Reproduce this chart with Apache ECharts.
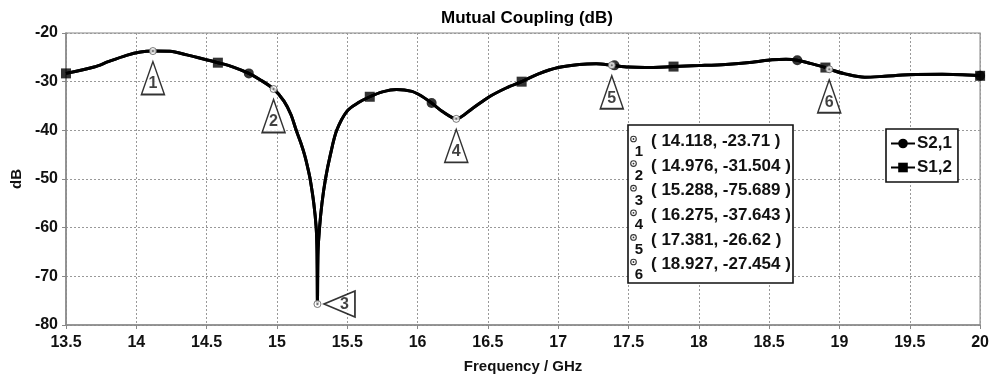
<!DOCTYPE html>
<html><head><meta charset="utf-8">
<script src="https://cdn.jsdelivr.net/npm/echarts@6/dist/echarts.min.js"></script>
<style>html,body{margin:0;padding:0;background:#fff}#c{width:992px;height:379px}</style>
</head><body><div id="c"></div>
<script>
// ---- data ----
const curveFreq = [13.5, 13.7, 13.8, 13.93, 14.03, 14.118, 14.24, 14.36, 14.47, 14.58, 14.69, 14.8, 14.88, 14.976,
  15.05, 15.1, 15.137, 15.17, 15.196, 15.22, 15.236, 15.262, 15.279, 15.285, 15.288, 15.292, 15.303, 15.32, 15.345,
  15.38, 15.425, 15.5, 15.58, 15.66, 15.75, 15.85, 15.96, 16.03, 16.1, 16.18, 16.275, 16.39, 16.51, 16.63, 16.74,
  16.86, 17.0, 17.15, 17.27, 17.381, 17.5, 17.62, 17.82, 18.0, 18.19, 18.38, 18.52, 18.62, 18.7, 18.8, 18.9, 18.927,
  19.04, 19.18, 19.32, 19.49, 19.73, 20];
const curveDb = [-28.3, -27.0, -25.9, -24.6, -23.9, -23.71, -23.75, -24.5, -25.3, -26.1, -27.0, -28.3, -29.6, -31.504,
  -34.0, -36.8, -40, -42.6, -45, -47.8, -50, -55, -60, -65, -75.689, -65, -60, -55, -50,
  -45, -40, -36.0, -34.3, -33.1, -32.1, -31.6, -32.0, -33.0, -34.4, -36.2, -37.643, -35.5, -33.1, -31.3, -30.0,
  -28.4, -27.1, -26.45, -26.3, -26.62, -27.0, -27.1, -26.9, -26.7, -26.45, -26.0, -25.5, -25.4, -25.6, -26.3, -27.1, -27.454,
  -28.4, -29.1, -28.9, -28.6, -28.5, -28.8];
const s21MarkFreq = [14.8, 16.1, 17.4, 18.7, 20];
const s21MarkDb = [-28.3, -34.4, -26.65, -25.6, -28.8];
const s12MarkFreq = [13.5, 14.58, 15.66, 16.74, 17.82, 18.9, 20];
const s12MarkDb = [-28.3, -26.1, -33.1, -30.0, -26.9, -27.1, -28.8];
const markerFreq = [14.118, 14.976, 15.288, 16.275, 17.381, 18.927];
const markerDb = [-23.71, -31.504, -75.689, -37.643, -26.62, -27.454];
const markerIds = ['1', '2', '3', '4', '5', '6'];
const seriesNames = ['S2,1', 'S1,2'];
const titleText = 'Mutual Coupling (dB)';
const xName = 'Frequency / GHz';
const yName = 'dB';
const xMin = 13.5, xMax = 20, xStep = 0.5;
const yMin = -80, yMax = -20, yStep = 10;

// ---- styles ----
const calloutDir = ['down', 'down', 'right', 'down', 'down', 'down'];
const FONT = 'Liberation Sans, Arial, sans-serif';

const zip = (a, b) => a.map((v, i) => [v, b[i]]);
const curve = zip(curveFreq, curveDb);

const calloutData = markerFreq.map((f, i) => {
  if (calloutDir[i] === 'right') {
    return {
      value: [f, markerDb[i]],
      symbol: 'path://M0,13 L31,0 L31,26 Z',
      symbolSize: [31, 26],
      symbolOffset: [22, 0],
      label: { offset: [5, 1] }
    };
  }
  return {
    value: [f, markerDb[i]],
    symbol: 'path://M12,0 L24,34 L0,34 Z',
    symbolSize: [23, 33],
    symbolOffset: [0, 27],
    label: { offset: [0, 6] }
  };
});

const chart = echarts.init(document.getElementById('c'));

const rowH = 24.6;
const TZ = 100;
const tableChildren = [{
  type: 'rect', z: TZ, shape: { x: 0, y: 0, width: 165, height: 158 },
  style: { fill: '#fff', stroke: '#111', lineWidth: 1.6 }
}];
markerFreq.forEach((f, i) => {
  tableChildren.push({ type: 'circle', z: TZ + 1, shape: { cx: 5.5, cy: 14 + i * rowH, r: 2.8 }, style: { fill: '#fff', stroke: '#333', lineWidth: 1.1 } });
  tableChildren.push({ type: 'circle', z: TZ + 2, shape: { cx: 5.5, cy: 14 + i * rowH, r: 0.9 }, style: { fill: '#333' } });
  tableChildren.push({ type: 'text', z: TZ + 1, x: 11, y: 26.5 + i * rowH, style: { text: markerIds[i], font: 'bold 15px ' + FONT, fill: '#111', align: 'center', verticalAlign: 'middle' } });
  tableChildren.push({ type: 'text', z: TZ + 1, x: 23, y: 16.5 + i * rowH, style: { text: '( ' + f + ', ' + markerDb[i] + ' )', font: 'bold 17px ' + FONT, fill: '#111', align: 'left', verticalAlign: 'middle' } });
});

chart.setOption({
  animation: false,
  backgroundColor: '#fff',
  textStyle: { fontFamily: FONT },
  grid: { left: 66, right: 10, top: 33, bottom: 54, show: true, borderColor: '#888', borderWidth: 1.2, backgroundColor: 'transparent' },
  legend: {
    data: seriesNames, orient: 'vertical', left: 886, top: 129,
    padding: [6, 6, 6, 4], itemGap: 7, itemWidth: 24, itemHeight: 12,
    borderColor: '#111', borderWidth: 1.6, backgroundColor: '#fff', borderRadius: 0,
    textStyle: { fontSize: 17, fontWeight: 'bold', color: '#111', fontFamily: FONT, padding: [0, 0, 0, -3] },
    z: 50
  },
  xAxis: {
    type: 'value', min: xMin, max: xMax, interval: xStep,
    name: xName, nameLocation: 'middle', nameGap: 34,
    nameTextStyle: { fontSize: 15, fontWeight: 'bold', color: '#111' },
    axisLine: { show: true, lineStyle: { color: '#888', width: 1.5 } },
    axisTick: { show: true, length: 4, lineStyle: { color: '#888' } },
    axisLabel: { fontSize: 16, fontWeight: 'bold', color: '#111', margin: 10, formatter: v => String(v) },
    splitLine: { show: true, lineStyle: { color: '#999', width: 1, type: [2, 2] } }
  },
  yAxis: {
    type: 'value', min: yMin, max: yMax, interval: yStep,
    name: yName, nameLocation: 'middle', nameGap: 42, nameRotate: 90,
    nameTextStyle: { fontSize: 15, fontWeight: 'bold', color: '#111' },
    axisLine: { show: true, lineStyle: { color: '#888', width: 1.5 } },
    axisTick: { show: true, length: 4, lineStyle: { color: '#888' } },
    axisLabel: { fontSize: 16, fontWeight: 'bold', color: '#111', margin: 8 },
    splitLine: { show: true, lineStyle: { color: '#999', width: 1, type: [2, 2] } }
  },
  graphic: [
    { type: 'text', x: 527, y: 18, z: TZ, style: { text: titleText, font: 'bold 17px ' + FONT, fill: '#000', align: 'center', verticalAlign: 'middle' } },
    { type: 'group', x: 628, y: 125, z: TZ, children: tableChildren }
  ],
  series: [
    { name: seriesNames[1], type: 'line', data: curve, smooth: 0.3, symbol: 'rect', symbolSize: 9, showSymbol: false,
      lineStyle: { color: '#000', width: 3 }, itemStyle: { color: '#000' } },
    { name: seriesNames[0], type: 'line', data: curve, smooth: 0.3, symbol: 'circle', symbolSize: 9, showSymbol: false,
      lineStyle: { color: '#000', width: 3 }, itemStyle: { color: '#000' } },
    { name: 'S1,2 markers', type: 'scatter', data: zip(s12MarkFreq, s12MarkDb), symbol: 'rect', symbolSize: 10,
      itemStyle: { color: '#000' }, z: 3 },
    { name: 'S2,1 markers', type: 'scatter', data: zip(s21MarkFreq, s21MarkDb), symbol: 'circle', symbolSize: 10,
      itemStyle: { color: '#000' }, z: 3 },
    { name: 'callouts', type: 'scatter', data: calloutData, z: 4,
      itemStyle: { color: '#fff', borderColor: '#000', borderWidth: 1.6 },
      label: { show: true, position: 'inside', formatter: p => markerIds[p.dataIndex], fontSize: 16, fontWeight: 'bold', color: '#111',
        textBorderWidth: 0, textBorderColor: 'transparent', fontFamily: FONT } },
    { name: 'marker rings', type: 'scatter', data: zip(markerFreq, markerDb), symbol: 'circle', symbolSize: 7, z: 5,
      itemStyle: { color: '#fff', borderColor: '#555', borderWidth: 1 } },
    { name: 'marker dots', type: 'scatter', data: zip(markerFreq, markerDb), symbol: 'circle', symbolSize: 2, z: 6,
      itemStyle: { color: '#555' } }
  ]
});
</script>
</body></html>
